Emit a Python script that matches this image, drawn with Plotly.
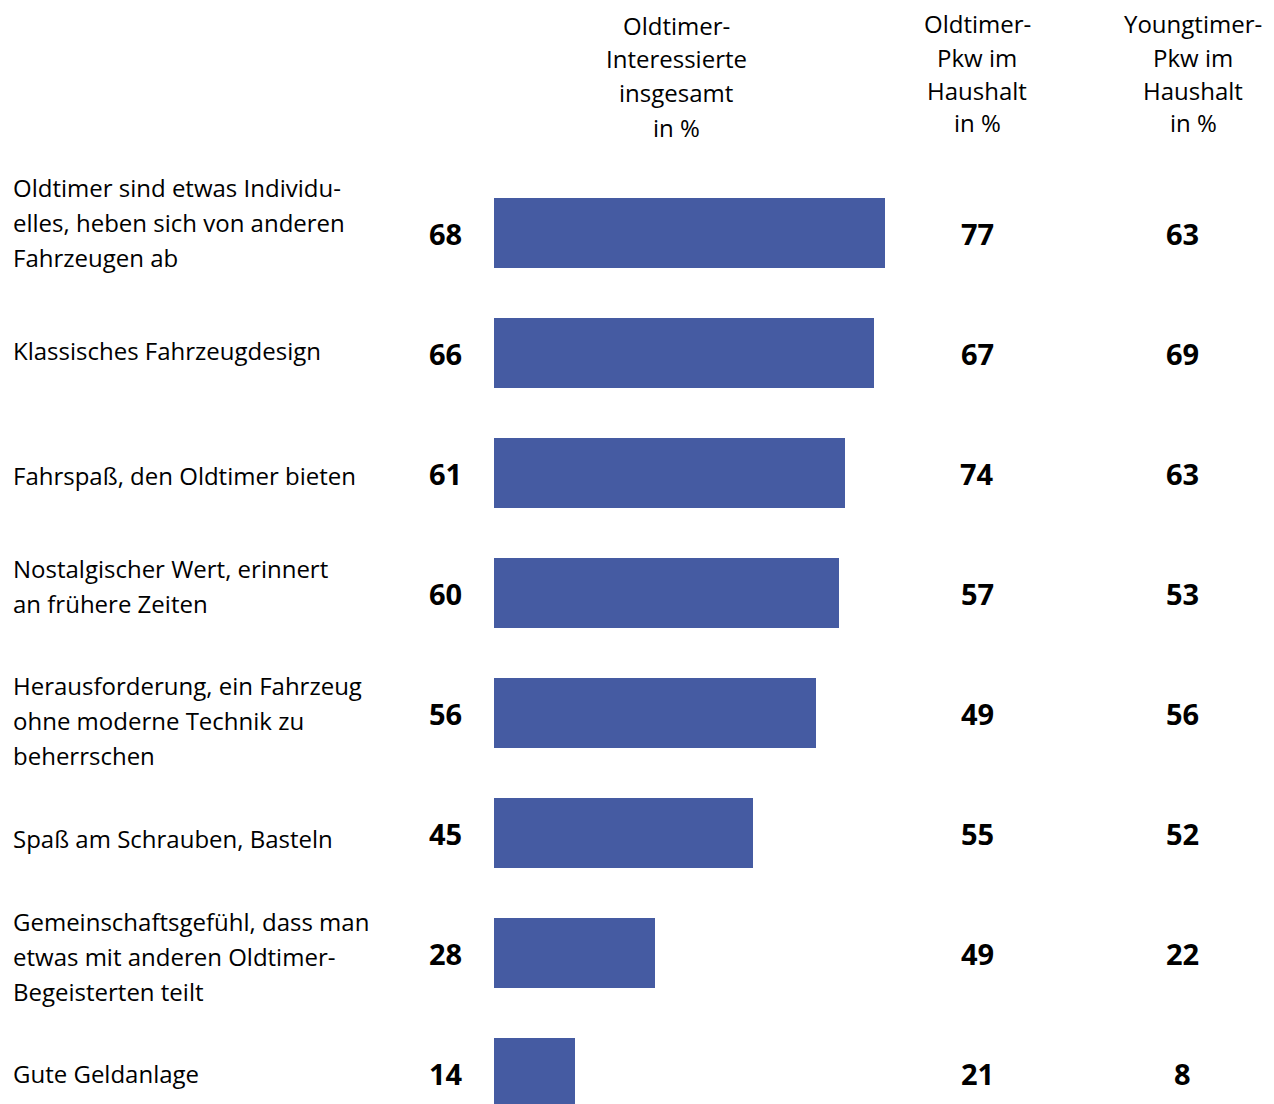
import plotly.graph_objects as go

categories = [
    "Oldtimer sind etwas Individu-<br>elles, heben sich von anderen<br>Fahrzeugen ab",
    "Klassisches Fahrzeugdesign",
    "Fahrspaß, den Oldtimer bieten",
    "Nostalgischer Wert, erinnert<br>an frühere Zeiten",
    "Herausforderung, ein Fahrzeug<br>ohne moderne Technik zu<br>beherrschen",
    "Spaß am Schrauben, Basteln",
    "Gemeinschaftsgefühl, dass man<br>etwas mit anderen Oldtimer-<br>Begeisterten teilt",
    "Gute Geldanlage",
]
interessierte = [68, 66, 61, 60, 56, 45, 28, 14]
oldtimer_pkw = [77, 67, 74, 57, 49, 55, 49, 21]
youngtimer_pkw = [63, 69, 63, 53, 56, 52, 22, 8]

headers = [
    "Oldtimer-<br>Interessierte<br>insgesamt<br>in %",
    "Oldtimer-<br>Pkw im<br>Haushalt<br>in %",
    "Youngtimer-<br>Pkw im<br>Haushalt<br>in %",
]

FONT = "Open Sans"
BAR = "#455BA2"
TXT = "#000000"
W, H = 1274, 1104
OFF = 8            # page offset of the figure (body margin)
TOP = 173 - OFF    # top margin in figure pixels
PLOT_H = H - TOP
LINE = 35          # line spacing in pixels (category labels)
# small vertical nudges (px, up positive) of the left-hand labels
LABEL_NUDGE = [11, 3, -2, 7, -7, -5, -3, 0]

def fx(px):
    return (px - OFF) / W

def fy(py):
    return 1 - (py - OFF - TOP) / PLOT_H

keys = [f"c{i}" for i in range(len(categories))]

fig = go.Figure()
fig.add_trace(go.Bar(
    x=interessierte, y=keys, orientation="h",
    marker=dict(color=BAR, line=dict(width=0)),
    width=0.58, hoverinfo="skip",
))

ann = []
for k, lab, a, b, c, nud in zip(keys, categories, interessierte, oldtimer_pkw,
                                youngtimer_pkw, LABEL_NUDGE):
    lines = lab.split("<br>")
    n = len(lines)
    for i, ln in enumerate(lines):
        ann.append(dict(x=fx(11), xref="paper", y=k, yref="y", text=ln, showarrow=False,
                        xanchor="left", yanchor="middle", align="left",
                        yshift=((n - 1) / 2 - i) * LINE + nud,
                        font=dict(family=FONT, size=24, color=TXT)))
    for val, px in ((a, 446), (b, 977), (c, 1182)):
        ann.append(dict(x=fx(px), xref="paper", y=k, yref="y", text=f"<b>{val}</b>",
                        showarrow=False, xanchor="center", yanchor="middle",
                        font=dict(family=FONT, size=29, color=TXT)))

for txt, px, first, step in zip(headers, (676, 977, 1193), (25, 24, 24), (34, 33, 33)):
    for i, ln in enumerate(txt.split("<br>")):
        ann.append(dict(x=fx(px), xref="paper", y=fy(first + i * step), yref="paper",
                        text=ln, showarrow=False, xanchor="center", yanchor="middle",
                        font=dict(family=FONT, size=24, color=TXT)))

fig.update_layout(
    width=W, height=H,
    margin=dict(l=0, r=0, t=TOP, b=0),
    paper_bgcolor="white", plot_bgcolor="white",
    showlegend=False,
    xaxis=dict(domain=[fx(494), fx(1069)], range=[0, 100], visible=False, fixedrange=True),
    yaxis=dict(type="category", categoryarray=keys,
               range=[-0.5 + PLOT_H / 120, -0.5],
               visible=False, fixedrange=True),
    annotations=ann,
    bargap=0,
)

fig.write_html("out.html")
